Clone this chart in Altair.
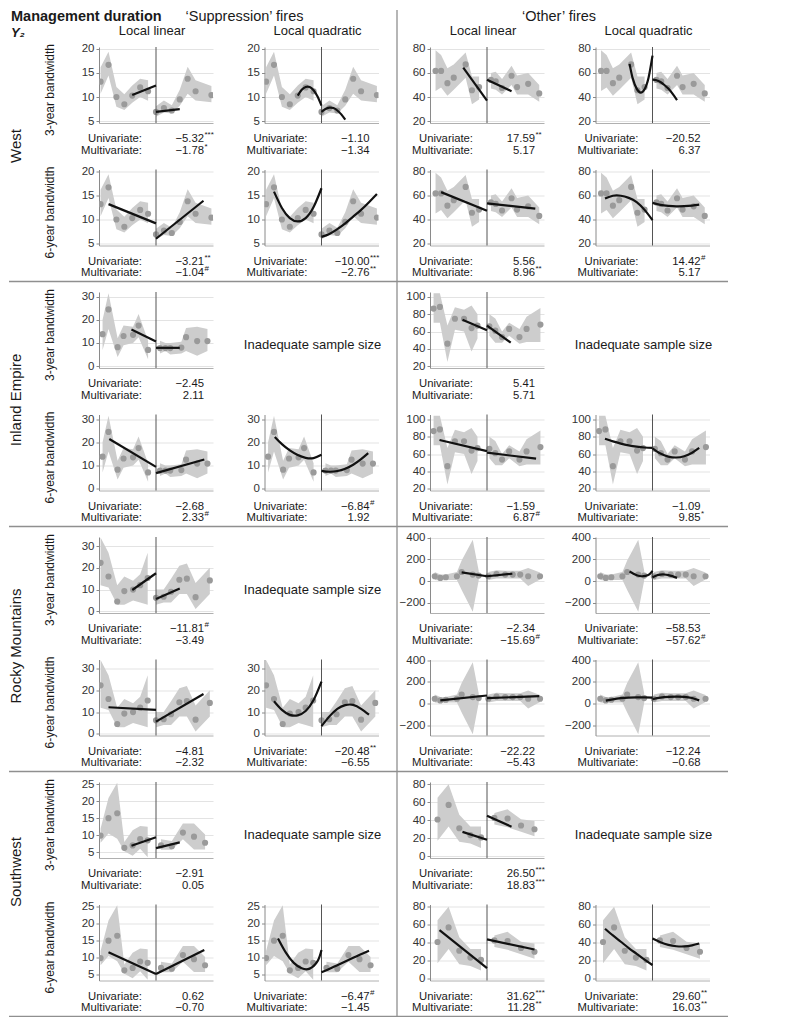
import altair as alt
import pandas as pd

FONT = "Liberation Sans"
TXT = "#1a1a1a"
BAND = "#cdcdcd"
PT = "#9a9a9a"
CUT = "#555555"
DIV = "#8f8f8f"
W, H = 114, 76
XDOM = [-7.2, 7.2]

# ---------------- binned means with confidence band ----------------
# West - 'Suppression'
WS_X = [-7, -6, -5, -4, -3, -2, -1, 0, 1, 2, 3, 4, 5, 7]
WS_Y = [13.2, 16.7, 10.0, 8.5, 10.3, 12.0, 11.2, 6.9, 7.7, 7.2, 9.5, 13.8, 11.2, 10.4]
WS_LO = [10.7, 14.5, 8.0, 7.3, 8.8, 10.0, 9.2, 5.9, 6.8, 6.6, 8.2, 10.7, 9.3, 8.9]
WS_HI = [16.2, 19.4, 12.1, 10.6, 12.4, 13.8, 13.5, 8.1, 9.3, 8.3, 11.5, 16.3, 13.5, 12.3]
WS_DOM, WS_TICKS = [4.6, 20.4], [5, 10, 15, 20]

# West - 'Other'
WO_X = [-6.5, -5.8, -5.0, -4.2, -2.7, -1.9, -1.0, 0.5, 1.1, 1.9, 3.1, 3.8, 5.2, 6.6]
WO_Y = [61.7, 61.7, 51.5, 56.1, 67.1, 45.6, 48.3, 54.2, 53.0, 47.5, 57.7, 48.3, 51.0, 43.0]
WO_LO = [45, 48, 41, 46, 56, 34, 38, 47, 46, 42, 50, 42, 42, 36]
WO_HI = [79, 75, 64, 67, 77, 57, 57, 60, 61, 55, 66, 58, 60, 50]
WO_DOM, WO_TICKS = [18.4, 81.6], [20, 40, 60, 80]

# Inland Empire - 'Suppression'
IS_X = [-6.75, -6.0, -4.85, -4.1, -2.9, -2.2, -1.0, 0.5, 1.2, 1.8, 3.2, 3.8, 5.2, 6.5]
IS_Y = [13.8, 24.5, 8.2, 13.0, 13.5, 17.5, 7.0, 7.8, 7.8, 7.8, 8.0, 12.5, 10.8, 10.8]
IS_LO = [7, 16, 4, 9, 10, 12.5, 3, 5.5, 6.5, 5, 5.5, 6.5, 4.5, 6.5]
IS_HI = [20, 31.5, 12, 17.5, 17, 22.5, 11, 11, 10, 10, 10.5, 16.5, 17, 16]
IS_DOM, IS_TICKS = [-0.8, 32], [0, 10, 20, 30]

# Inland Empire - 'Other'
IO_X = [-6.75, -5.95, -5.0, -4.05, -2.9, -1.95, -1.2, 0.3, 1.05, 1.9, 2.8, 4.1, 5.0, 6.75]
IO_Y = [86.4, 88.3, 46, 74.7, 74.7, 64, 66.8, 66, 61, 53.6, 63, 53.6, 63, 68]
IO_LO = [70, 70, 25, 62, 60, 37, 52, 55, 47, 47, 55, 46, 48, 48]
IO_HI = [104, 104, 67, 88, 85, 90, 80, 80, 75, 60, 70, 63, 77, 87]
IO_DOM, IO_TICKS = [18, 105.5], [20, 40, 60, 80, 100]

# Rocky Mountains - 'Suppression'
RS_X = [-7.0, -6.0, -4.9, -4.0, -2.9, -2.0, -1.05, 0, 0.97, 1.9, 2.95, 3.9, 5.0, 6.8]
RS_Y = [22.3, 16, 4.5, 9.3, 10, 12, 15.3, 6.2, 6.7, 9, 14.5, 15, 6.5, 14.2]
RS_LO = [12, 11, 3, 3, 5, 4, 3, 3, 4, 4, 8, 8, 1, 8]
RS_HI = [34, 27, 12, 16, 14, 17, 27, 10, 10, 15, 21, 22, 13, 20]
RS_DOM, RS_TICKS = [-0.8, 34.2], [0, 10, 20, 30]

# Rocky Mountains - 'Other'
RO_X = [-6.6, -5.9, -5.2, -3.8, -3.2, -1.8, -1.05, 0.17, 1.2, 2.3, 3.25, 4.2, 5.2, 6.7]
RO_Y = [45, 30, 36, 45, 84, 60, 51, 45, 66, 60, 60, 60, 45, 45]
RO_LO = [10, 5, 10, 10, -80, -280, 5, 10, 25, 25, 25, 25, -45, 15]
RO_HI = [85, 60, 60, 85, 190, 380, 95, 85, 100, 95, 95, 95, 120, 80]
RO_DOM, RO_TICKS = [-292, 405], [-200, 0, 200, 400]

# Southwest - 'Suppression'
SS_X = [-7.0, -6.0, -4.9, -4.0, -2.95, -2.0, -1.05, 0.63, 2.0, 3.4, 4.8, 6.2]
SS_Y = [9.9, 15.05, 16.5, 6.3, 7.0, 8.9, 8.5, 7.0, 6.8, 10.8, 9.6, 7.8]
SS_LO = [7.8, 10.5, 9, 5.3, 4, 6, 3.5, 5.7, 5.7, 8.8, 5.8, 5.8]
SS_HI = [12, 21, 25.5, 8, 11.5, 12.7, 12.5, 8.8, 8.3, 13.5, 13.5, 10.2]
SS_DOM, SS_TICKS = [3.3, 25.7], [5, 10, 15, 20, 25]

# Southwest - 'Other'
SO_X = [-6.25, -4.85, -3.5, -2.1, -0.76, 0.93, 2.6, 4.3, 6.0]
SO_Y = [40.7, 57, 31, 23.3, 20.7, 42.5, 41.8, 34, 29.8]
SO_LO = [17, 33, 16, 14, 9, 35, 32, 27, 22]
SO_HI = [65, 80, 46, 33, 33, 48, 52, 41, 39]
SO_DOM, SO_TICKS = [-2.2, 82.5], [0, 20, 40, 60, 80]

# ---------------- fitted local polynomials (left x, left y, right x, right y) ----------------
WS_LL3 = ([-3, 0], [10.4, 12.4], [0, 3], [6.9, 7.5])
WS_LQ3 = ([-3, -2.5, -2, -1.5, -1, -0.5, 0], [10.3, 11.5, 12.1, 12.1, 11.4, 10.1, 8.2],
          [0, 0.5, 1, 1.5, 2, 2.5, 3], [6.9, 7.5, 7.8, 7.7, 7.2, 6.4, 5.3])
WS_LL6 = ([-6, 0], [13.2, 9.2], [0, 6], [6.0, 13.9])
WS_LQ6 = ([-6, -5, -4, -3, -2, -1, 0], [15.8, 12.4, 10.3, 9.6, 10.3, 12.6, 16.5],
          [0, 1, 2, 3, 4, 5, 6, 7], [6.4, 7.0, 8.0, 9.2, 10.6, 12.0, 13.6, 15.3])

WO_LL3 = ([-3, 0], [64.4, 37], [0, 3.1], [54.4, 44.8])
WO_LQ3 = ([-2.9, -2.5, -2, -1.5, -1, -0.5, 0], [67.6, 55.5, 47, 43.7, 46.5, 56, 74.4],
          [0, 0.5, 1, 1.5, 2, 2.5, 3.1], [54.4, 54, 52.5, 50, 47, 43, 37.5])
WO_LL6 = ([-5.8, 0], [62.8, 47.3], [0, 6.1], [53.5, 49])
WO_LQ6 = ([-6, -5, -4, -3, -2, -1, 0], [57.5, 59.8, 59.8, 58, 54.5, 48, 39.5],
          [0, 1, 2, 3, 4, 5, 5.9], [53.8, 52.2, 51.4, 51, 51.1, 51.6, 52.4])

IS_LL3 = ([-3.1, 0], [15.8, 10.6], [0, 3], [7.9, 7.9])
IS_LL6 = ([-5.9, 0], [21.4, 9.4], [0, 6.1], [6.7, 12.6])
IS_LQ6 = ([-5.9, -5, -4, -3, -2, -1, 0], [22.3, 19.2, 16.5, 14.5, 13.3, 13.2, 14.6],
          [0, 1, 2, 3, 4, 5, 5.9], [7.7, 7.3, 7.6, 8.6, 10.3, 12.7, 15.3])

IO_LL3 = ([-3.1, 0], [73.6, 61.5], [0, 3], [66.8, 47.2])
IO_LL6 = ([-6, 0], [76.2, 63.4], [0, 6.2], [61.5, 54.7])
IO_LQ6 = ([-6, -5, -4, -3, -2, -1, 0], [77.5, 74.5, 72, 70, 68.5, 67.5, 67],
          [0, 1, 2, 3, 4, 5, 5.9], [66.5, 60.5, 57, 56, 57.5, 61.5, 67])

RS_LL3 = ([-3, 0], [9.8, 17.5], [0, 3], [5.6, 10.5])
RS_LL6 = ([-6, 0], [12.2, 11.0], [0, 6], [5.6, 18.3])
RS_LQ6 = ([-6, -5, -4, -3, -2, -1, 0], [15, 11, 8.7, 8.5, 10.5, 15.5, 24],
          [0, 1, 2, 3, 4, 5, 6], [3.5, 8, 11.5, 13.2, 13.3, 11.5, 8.8])

RO_LL3 = ([-3.2, 0], [80, 45], [0, 3.2], [45, 68])
RO_LQ3 = ([-2.9, -2.4, -1.9, -1.4, -0.9, -0.4, 0], [88, 68, 52, 45, 48, 62, 95],
          [0, 0.5, 1, 1.5, 2, 2.5, 3.1], [36, 52, 60, 61, 56, 46, 30])
RO_LL6 = ([-5.9, 0], [30, 75], [0, 6.6], [50, 70])
RO_LQ6 = ([-5.9, -5, -4, -3, -2, -1, 0], [28, 40, 50, 56, 58, 58, 56],
          [0, 1, 2, 3, 4, 5, 5.9], [42, 55, 62, 65, 63, 52, 30])

SS_LL3 = ([-3.1, 0], [6.9, 9.4], [0, 3], [6.2, 7.9])
SS_LL6 = ([-6, 0], [11.6, 5.2], [0, 6.1], [5.2, 12.3])
SS_LQ6 = ([-5.5, -4.5, -3.5, -2.5, -1.5, -0.5, 0], [15.7, 11.5, 8.5, 6.9, 6.8, 9.0, 12.3],
          [0, 2, 4, 6], [5.7, 7.8, 10, 12.1])

SO_LL3 = ([-3.1, 0], [26.9, 18.2], [0, 3.1], [45, 32.7])
SO_LL6 = ([-6, 0], [54, 11.6], [0, 6], [43.6, 32.4])
SO_LQ6 = ([-6, -5, -4, -3, -2, -1, 0], [55.5, 48, 41, 34, 27.5, 21, 15],
          [0, 1, 2, 3, 4, 5, 5.9], [44.5, 40.5, 37.5, 36, 35.8, 37, 39])

# ---------------- discontinuity estimates (value, significance mark) ----------------
REGIONS = ["West", "Inland Empire", "Rocky Mountains", "Southwest"]
REGION_LABEL_Y = [99, 108, 109, 90]
ROW_LABELS = ["3-year bandwidth", "6-year bandwidth"]
COL_LABELS = ["Local linear", "Local quadratic", "Local linear", "Local quadratic"]
GROUP_LABELS = ["\u2018Suppression\u2019 fires", "\u2018Other\u2019 fires"]
NA_TEXT = "Inadequate sample size"
M = "\u2212"

# each row: 4 panels -> (dataset key, fit, univariate, multivariate) or None
GRID = [
    [("WS", WS_LL3, (M + "5.32", "***"), (M + "1.78", "*")),
     ("WS", WS_LQ3, (M + "1.10", ""), (M + "1.34", "")),
     ("WO", WO_LL3, ("17.59", "**"), ("5.17", "")),
     ("WO", WO_LQ3, (M + "20.52", ""), ("6.37", ""))],
    [("WS", WS_LL6, (M + "3.21", "**"), (M + "1.04", "#")),
     ("WS", WS_LQ6, (M + "10.00", "***"), (M + "2.76", "**")),
     ("WO", WO_LL6, ("5.56", ""), ("8.96", "**")),
     ("WO", WO_LQ6, ("14.42", "#"), ("5.17", ""))],
    [("IS", IS_LL3, (M + "2.45", ""), ("2.11", "")),
     None,
     ("IO", IO_LL3, ("5.41", ""), ("5.71", "")),
     None],
    [("IS", IS_LL6, (M + "2.68", ""), ("2.33", "#")),
     ("IS", IS_LQ6, (M + "6.84", "#"), ("1.92", "")),
     ("IO", IO_LL6, (M + "1.59", ""), ("6.87", "#")),
     ("IO", IO_LQ6, (M + "1.09", ""), ("9.85", "*"))],
    [("RS", RS_LL3, (M + "11.81", "#"), (M + "3.49", "")),
     None,
     ("RO", RO_LL3, (M + "2.34", ""), (M + "15.69", "#")),
     ("RO", RO_LQ3, (M + "58.53", ""), (M + "57.62", "#"))],
    [("RS", RS_LL6, (M + "4.81", ""), (M + "2.32", "")),
     ("RS", RS_LQ6, (M + "20.48", "**"), (M + "6.55", "")),
     ("RO", RO_LL6, (M + "22.22", ""), (M + "5.43", "")),
     ("RO", RO_LQ6, (M + "12.24", ""), (M + "0.68", ""))],
    [("SS", SS_LL3, (M + "2.91", ""), ("0.05", "")),
     None,
     ("SO", SO_LL3, ("26.50", "***"), ("18.83", "***")),
     None],
    [("SS", SS_LL6, ("0.62", ""), (M + "0.70", "")),
     ("SS", SS_LQ6, (M + "6.47", "#"), (M + "1.45", "")),
     ("SO", SO_LL6, ("31.62", "***"), ("11.28", "**")),
     ("SO", SO_LQ6, ("29.60", "**"), ("16.03", "**"))],
]

DATA = {
    "WS": (WS_X, WS_Y, WS_LO, WS_HI, WS_DOM, WS_TICKS),
    "WO": (WO_X, WO_Y, WO_LO, WO_HI, WO_DOM, WO_TICKS),
    "IS": (IS_X, IS_Y, IS_LO, IS_HI, IS_DOM, IS_TICKS),
    "IO": (IO_X, IO_Y, IO_LO, IO_HI, IO_DOM, IO_TICKS),
    "RS": (RS_X, RS_Y, RS_LO, RS_HI, RS_DOM, RS_TICKS),
    "RO": (RO_X, RO_Y, RO_LO, RO_HI, RO_DOM, RO_TICKS),
    "SS": (SS_X, SS_Y, SS_LO, SS_HI, SS_DOM, SS_TICKS),
    "SO": (SO_X, SO_Y, SO_LO, SO_HI, SO_DOM, SO_TICKS),
}


def bins_df(xs, ys, lo, hi):
    return pd.DataFrame({"x": xs, "y": ys, "lo": lo, "hi": hi,
                         "side": ["L" if v < 0 else "R" for v in xs]})


def fit_df(fit):
    lx, ly, rx, ry = fit
    return pd.DataFrame({"x": list(lx) + list(rx), "y": list(ly) + list(ry),
                         "side": ["L"] * len(lx) + ["R"] * len(rx)})


def label(text, x, y, size, angle=0, weight="normal", style="normal", align="center"):
    return alt.Chart(pd.DataFrame({"t": [text]})).mark_text(
        font=FONT, fontSize=size, angle=angle, fontWeight=weight, fontStyle=style,
        align=align, baseline="middle", color=TXT
    ).encode(x=alt.value(x), y=alt.value(y), text="t:N")


def hline(y, x1, x2):
    return alt.Chart(pd.DataFrame({"k": [0]})).mark_rule(color=DIV, strokeWidth=1.3).encode(
        x=alt.value(x1), x2=alt.value(x2), y=alt.value(y))


def vline(x, y1, y2):
    return alt.Chart(pd.DataFrame({"k": [0]})).mark_rule(color=DIV, strokeWidth=1.3).encode(
        x=alt.value(x), y=alt.value(y1), y2=alt.value(y2))


def stat_layers(uni, multi):
    out = []
    for i, (lab, (val, sig)) in enumerate([("Univariate:", uni), ("Multivariate:", multi)]):
        d = pd.DataFrame({"lab": [lab], "val": [val], "sig": [sig]})
        yy = H + 16 + i * 11.5
        c = alt.Chart(d)
        out.append(c.mark_text(font=FONT, fontSize=11.3, align="right", baseline="middle", color=TXT)
                   .encode(x=alt.value(43), y=alt.value(yy), text="lab:N"))
        out.append(c.mark_text(font=FONT, fontSize=11.3, align="right", baseline="middle", color=TXT)
                   .encode(x=alt.value(105), y=alt.value(yy), text="val:N"))
        if sig:
            out.append(c.mark_text(font=FONT, fontSize=8, align="left", baseline="middle", dy=-4, color=TXT)
                       .encode(x=alt.value(105.5), y=alt.value(yy), text="sig:N"))
    return out


def panel(key, fit, uni, multi, extras):
    xs, ys, lo, hi, dom, ticks = DATA[key]
    bins = bins_df(xs, ys, lo, hi)
    xsc = alt.Scale(domain=XDOM, nice=False, zero=False)
    ysc = alt.Scale(domain=dom, nice=False, zero=False)
    xax = alt.Axis(labels=False, ticks=False, grid=False, domain=True,
                   domainColor="#b0b0b0", domainWidth=1, title=None)
    yax = alt.Axis(values=ticks, grid=True, gridColor="#e3e3e3", gridWidth=1,
                   domainColor="#8a8a8a", tickColor="#8a8a8a", tickSize=3,
                   labelFont=FONT, labelFontSize=11.5, labelColor="#333333",
                   labelPadding=2, title=None)
    X = alt.X("x:Q", scale=xsc, axis=xax)
    band = alt.Chart(bins).mark_area(color=BAND, opacity=1, clip=True).encode(
        x=X, y=alt.Y("lo:Q", scale=ysc, axis=yax), y2="hi:Q", detail="side:N")
    pts = alt.Chart(bins).mark_circle(color=PT, size=38, opacity=1, clip=True).encode(
        x=X, y=alt.Y("y:Q", scale=ysc, axis=yax))
    cut = alt.Chart(pd.DataFrame({"x": [0]})).mark_rule(color=CUT, strokeWidth=1).encode(x=X)
    line = alt.Chart(fit_df(fit)).mark_line(color="#111111", strokeWidth=2.2,
                                            interpolate="natural", clip=True).encode(
        x=X, y=alt.Y("y:Q", scale=ysc, axis=yax), detail="side:N")
    return alt.layer(band, pts, cut, line, *stat_layers(uni, multi), *extras).properties(
        width=W, height=H)


def empty_panel(extras):
    t = label(NA_TEXT, W / 2 - 9, 53, 13)
    return alt.layer(t, *extras).properties(width=W, height=H)


ROW_PITCH = 122.5
COL_PITCH = 165.5

panels = []
for r, row in enumerate(GRID):
    for c, spec in enumerate(row):
        extras = []
        if c == 0:
            extras.append(label(ROW_LABELS[r % 2], -49, 43, 12, angle=270))
            if r % 2 == 0:
                extras.append(label(REGIONS[r // 2], -83, REGION_LABEL_Y[r // 2], 15, angle=270))
            else:
                extras.append(hline(H + 36, -90, 629))
        if r == 0:
            extras.append(label(COL_LABELS[c], W / 2 - 4, -16.5, 13))
            if c == 0:
                extras.append(label("Management duration", -88, -30.5, 14.5, weight="bold", align="left"))
                extras.append(label("Y\u2082", -88, -14, 13, weight="bold", style="italic", align="left"))
                extras.append(label(GROUP_LABELS[0], 145.5, -30.5, 14.5))
            if c == 1:
                extras.append(vline(132.5, -37, 970))
            if c == 2:
                extras.append(label(GROUP_LABELS[1], 129, -30.5, 14.5))
        if spec is None:
            panels.append(empty_panel(extras))
        else:
            key, fit, uni, multi = spec
            panels.append(panel(key, fit, uni, multi, extras))

chart = alt.concat(
    *panels, columns=4, bounds="flush",
    spacing={"row": ROW_PITCH - H, "column": COL_PITCH - W}
).properties(padding=0).configure_view(stroke=None)

chart.save("out.html", embed_options={"renderer": "svg", "actions": False})
